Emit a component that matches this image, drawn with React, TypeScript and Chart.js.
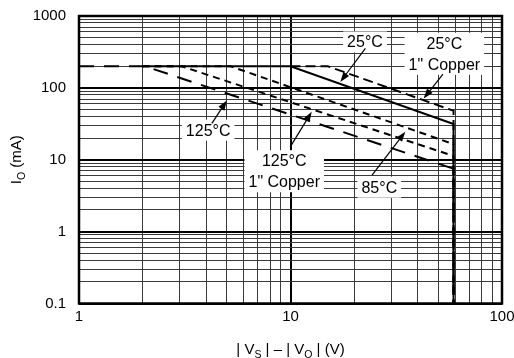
import React, { useEffect, useRef } from 'react';
import { Chart, registerables } from 'chart.js';

Chart.register(...registerables);

// ---- data (|Vs| - |Vo| in V, Io in mA) ----
const V_25C = [2, 10, 59, 59];
const I_25C = [200, 200, 31.5, 0.1];
const V_25C_CU = [10, 15, 59, 59];
const I_25C_CU = [200, 200, 48, 0.1];
const V_85C = [2, 5.2, 59, 59];
const I_85C = [200, 200, 16.5, 0.1];
const V_125C_CU = [2, 3.05, 59, 59];
const I_125C_CU = [200, 200, 11.3, 0.1];
const V_125C = [1, 2.05, 59, 59];
const I_125C = [200, 200, 7.5, 0.1];

const X_TICKS = [1, 2, 3, 4, 5, 6, 7, 8, 9, 10, 20, 30, 40, 50, 60, 70, 80, 90, 100];
const X_LABELS = [1, 10, 100];
const Y_TICKS = [
  0.1, 0.2, 0.3, 0.4, 0.5, 0.6, 0.7, 0.8, 0.9,
  1, 2, 3, 4, 5, 6, 7, 8, 9,
  10, 20, 30, 40, 50, 60, 70, 80, 90,
  100, 200, 300, 400, 500, 600, 700, 800, 900, 1000,
];
const Y_LABELS = [0.1, 1, 10, 100, 1000];

// annotation text (positions in data units: [V, mA])
const ANNOTATIONS = [
  { lines: ['25°C'], at: [22.5, 435], from: [22.6, 355], to: [17.2, 121] },
  { lines: ['25°C', '1" Copper'], at: [53.4, 298], from: [52.6, 155], to: [42.6, 71] },
  { lines: ['125°C'], at: [4.08, 25.8], from: [4.25, 32], to: [5.0, 67] },
  { lines: ['125°C', '1" Copper'], at: [9.34, 6.93], from: [9.97, 15.1], to: [12.6, 46.5] },
  { lines: ['85°C'], at: [26.3, 4.15], from: [24.3, 6.1], to: [34.9, 24.5] },
];

const X_TITLE = [
  { t: '| V' }, { t: 'S', sub: true }, { t: ' | – | V' }, { t: 'O', sub: true }, { t: ' | (V)' },
];
const Y_TITLE = [{ t: 'I' }, { t: 'O', sub: true }, { t: ' (mA)' }];

const FONT = '"Liberation Sans", Arial, Helvetica, sans-serif';

const isMajor = (v: number) => {
  const l = Math.log10(v);
  return Math.abs(l - Math.round(l)) < 1e-9;
};

const toPts = (xs: number[], ys: number[]) => xs.map((x, i) => ({ x, y: ys[i] }));

function drawRich(ctx: CanvasRenderingContext2D, parts: { t: string; sub?: boolean }[], cx: number, baseline: number) {
  const main = `15px ${FONT}`;
  const sub = `10.5px ${FONT}`;
  let total = 0;
  for (const p of parts) {
    ctx.font = p.sub ? sub : main;
    total += ctx.measureText(p.t).width;
  }
  let x = cx - total / 2;
  ctx.textAlign = 'left';
  ctx.textBaseline = 'alphabetic';
  for (const p of parts) {
    ctx.font = p.sub ? sub : main;
    ctx.fillText(p.t, x, baseline + (p.sub ? 4 : 0));
    x += ctx.measureText(p.t).width;
  }
}

const overlayPlugin = {
  id: 'overlay',
  afterDatasetsDraw(chart: any) {
    const { ctx, scales } = chart;
    const xs = scales.x;
    const ys = scales.y;
    ctx.save();
    const lh = 21;
    ctx.font = `16px ${FONT}`;
    // boxes
    for (const a of ANNOTATIONS) {
      const cx = xs.getPixelForValue(a.at[0]);
      const cy = ys.getPixelForValue(a.at[1]);
      const w = Math.max(...a.lines.map((l) => ctx.measureText(l).width)) + 8;
      const h = a.lines.length * lh;
      ctx.fillStyle = '#fff';
      ctx.fillRect(cx - w / 2, cy - h / 2, w, h);
    }
    // arrows
    ctx.strokeStyle = '#000';
    ctx.fillStyle = '#000';
    ctx.lineWidth = 1.2;
    for (const a of ANNOTATIONS) {
      const x1 = xs.getPixelForValue(a.from[0]);
      const y1 = ys.getPixelForValue(a.from[1]);
      const x2 = xs.getPixelForValue(a.to[0]);
      const y2 = ys.getPixelForValue(a.to[1]);
      const ang = Math.atan2(y2 - y1, x2 - x1);
      const hl = 10;
      const hw = 3.5;
      ctx.beginPath();
      ctx.moveTo(x1, y1);
      ctx.lineTo(x2 - Math.cos(ang) * hl * 0.8, y2 - Math.sin(ang) * hl * 0.8);
      ctx.stroke();
      ctx.beginPath();
      ctx.moveTo(x2, y2);
      ctx.lineTo(x2 - Math.cos(ang) * hl - Math.sin(ang) * hw, y2 - Math.sin(ang) * hl + Math.cos(ang) * hw);
      ctx.lineTo(x2 - Math.cos(ang) * hl + Math.sin(ang) * hw, y2 - Math.sin(ang) * hl - Math.cos(ang) * hw);
      ctx.closePath();
      ctx.fill();
    }
    // text
    ctx.textAlign = 'center';
    ctx.textBaseline = 'middle';
    ctx.font = `16px ${FONT}`;
    for (const a of ANNOTATIONS) {
      const cx = xs.getPixelForValue(a.at[0]);
      const cy = ys.getPixelForValue(a.at[1]);
      const n = a.lines.length;
      a.lines.forEach((l, i) => {
        ctx.fillText(l, cx, cy + (i - (n - 1) / 2) * lh + 1);
      });
    }
    ctx.restore();
  },
  afterDraw(chart: any) {
    const { ctx, chartArea } = chart;
    ctx.save();
    ctx.strokeStyle = '#000';
    ctx.lineWidth = 2.5;
    ctx.strokeRect(chartArea.left, chartArea.top, chartArea.right - chartArea.left, chartArea.bottom - chartArea.top);
    ctx.fillStyle = '#000';
    // x title
    drawRich(ctx, X_TITLE, (chartArea.left + chartArea.right) / 2, 354);
    // y title
    ctx.translate(21, (chartArea.top + chartArea.bottom) / 2);
    ctx.rotate(-Math.PI / 2);
    drawRich(ctx, Y_TITLE, 0, 0);
    ctx.restore();
  },
};

const gridOpts = {
  drawTicks: false,
  color: (c: any) => (c.tick && isMajor(c.tick.value) ? '#000' : '#3a3a3a'),
  lineWidth: (c: any) => (c.tick && isMajor(c.tick.value) ? 2 : 1),
};

export default function App() {
  const ref = useRef<HTMLCanvasElement | null>(null);
  useEffect(() => {
    document.body.style.margin = '0';
    Chart.defaults.font.family = FONT;
    const ds = (label: string, xs: number[], ys: number[], dash: number[]) => ({
      label,
      data: toPts(xs, ys),
      borderColor: '#000',
      borderWidth: 2,
      borderDash: dash,
      pointRadius: 0,
      fill: false,
      tension: 0,
    });
    const chart = new Chart(ref.current as HTMLCanvasElement, {
      type: 'line',
      data: {
        datasets: [
          ds('25°C', V_25C, I_25C, []),
          ds('25°C 1" Copper', V_25C_CU, I_25C_CU, [10, 5]),
          ds('85°C', V_85C, I_85C, [7, 5]),
          ds('125°C 1" Copper', V_125C_CU, I_125C_CU, [7, 5]),
          ds('125°C', V_125C, I_125C, [15, 10]),
        ],
      },
      options: {
        responsive: false,
        animation: false,
        devicePixelRatio: 1,
        parsing: false,
        layout: { padding: { left: 0, right: 12, top: 16, bottom: 0 } },
        plugins: { legend: { display: false }, tooltip: { enabled: false } },
        scales: {
          x: {
            type: 'logarithmic',
            min: 1,
            max: 100,
            afterBuildTicks: (s: any) => {
              s.ticks = X_TICKS.map((v) => ({ value: v }));
            },
            afterFit: (s: any) => {
              s.height = 54.5;
              s.paddingLeft = 0;
              s.paddingRight = 0;
              s.paddingTop = 0;
              s.paddingBottom = 0;
            },
            ticks: {
              autoSkip: false,
              maxRotation: 0,
              padding: 4,
              color: '#000',
              font: { size: 15 },
              callback: (v: any) => (X_LABELS.includes(Number(v)) ? String(v) : ''),
            },
            grid: gridOpts,
            border: { display: false },
          },
          y: {
            type: 'logarithmic',
            min: 0.1,
            max: 1000,
            afterBuildTicks: (s: any) => {
              s.ticks = Y_TICKS.map((v) => ({ value: v }));
            },
            afterFit: (s: any) => {
              s.width = 79;
              s.paddingLeft = 0;
              s.paddingRight = 0;
              s.paddingTop = 0;
              s.paddingBottom = 0;
            },
            ticks: {
              autoSkip: false,
              padding: 13,
              color: '#000',
              font: { size: 15 },
              callback: (v: any) => (Y_LABELS.includes(Number(v)) ? String(v) : ''),
            },
            grid: gridOpts,
            border: { display: false },
          },
        },
      } as any,
      plugins: [overlayPlugin],
    });
    return () => chart.destroy();
  }, []);
  return <canvas ref={ref} width={514} height={358} style={{ display: 'block' }} />;
}
